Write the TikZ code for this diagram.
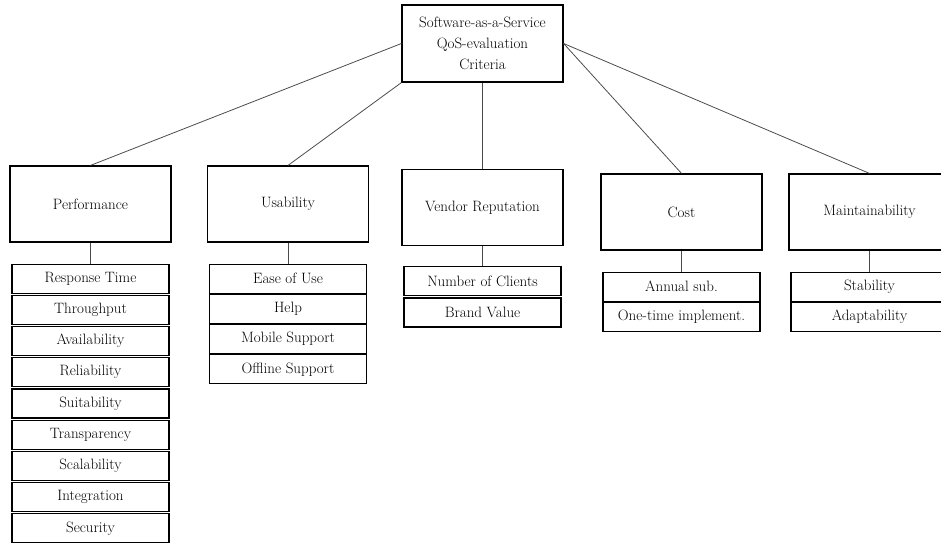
\documentclass[tikz,border=0pt]{standalone}
\usepackage{tikz}
\usetikzlibrary{positioning}

\begin{document}
\begin{tikzpicture}[
  x=1pt, y=-1pt,
  font=\fontsize{15}{21}\selectfont,
  crit/.style={rectangle, draw, line width=1.2pt, minimum width=161pt, minimum height=76pt, inner sep=2pt},
  leaf/.style={rectangle, draw, line width=1.2pt, minimum width=157pt, minimum height=29pt, inner sep=1pt},
  link/.style={draw=black!70, line width=0.8pt}
]
  \useasboundingbox (0,0) rectangle (941,542);
  \clip (0,0) rectangle (941,542);

  % Root
  \node[crit, minimum height=77pt, align=center] (saas) at (482.5,43.5) {Software-as-a-Service\\QoS-evaluation\\Criteria};

  % Criteria - second level
  \node[crit] (perf) at (90.5,204) {Performance};
  \node[crit] (usab) at (288,204) {Usability};
  \node[crit] (vend) at (482.5,207.5) {Vendor Reputation};
  \node[crit] (cost) at (681.5,212) {Cost};
  \node[crit] (maint) at (869.5,212) {Maintainability};

  % Connections from root
  \draw[link] (saas.west) -- (perf.north);
  \draw[link] (saas.south west) -- (usab.north);
  \draw[link] (saas.south) -- (vend.north);
  \draw[link] (saas.east) -- (cost.north);
  \draw[link] (saas.east) -- (maint.north);

  % Performance
  \node[leaf, below=21pt of perf] (resp) {Response Time};
  \node[leaf, below=1pt of resp] (thru) {Throughput};
  \node[leaf, below=1pt of thru] (avail) {Availability};
  \node[leaf, below=1pt of avail] (reli) {Reliability};
  \node[leaf, below=1pt of reli] (suit) {Suitability};
  \node[leaf, below=1pt of suit] (transp) {Transparency};
  \node[leaf, below=1pt of transp] (scal) {Scalability};
  \node[leaf, below=1pt of scal] (integ) {Integration};
  \node[leaf, below=1pt of integ] (secu) {Security};
  \draw[link] (perf.south) -- (resp.north);

  % Usability
  \node[leaf, below=21pt of usab] (ease) {Ease of Use};
  \node[leaf, below=0pt of ease] (help) {Help};
  \node[leaf, below=0pt of help] (mobile) {Mobile Support};
  \node[leaf, below=0pt of mobile] (offline) {Offline Support};
  \draw[link] (usab.south) -- (ease.north);

  % Vendor Reputation
  \node[leaf, below=20pt of vend] (clients) {Number of Clients};
  \node[leaf, below=1pt of clients] (brand) {Brand Value};
  \draw[link] (vend.south) -- (clients.north);

  % Cost
  \node[leaf, below=21pt of cost] (annual) {Annual sub.};
  \node[leaf, below=0pt of annual] (onetime) {One-time implement.};
  \draw[link] (cost.south) -- (annual.north);

  % Maintainability
  \node[leaf, below=21pt of maint] (stab) {Stability};
  \node[leaf, below=0pt of stab] (adapt) {Adaptability};
  \draw[link] (maint.south) -- (stab.north);
\end{tikzpicture}
\end{document}
